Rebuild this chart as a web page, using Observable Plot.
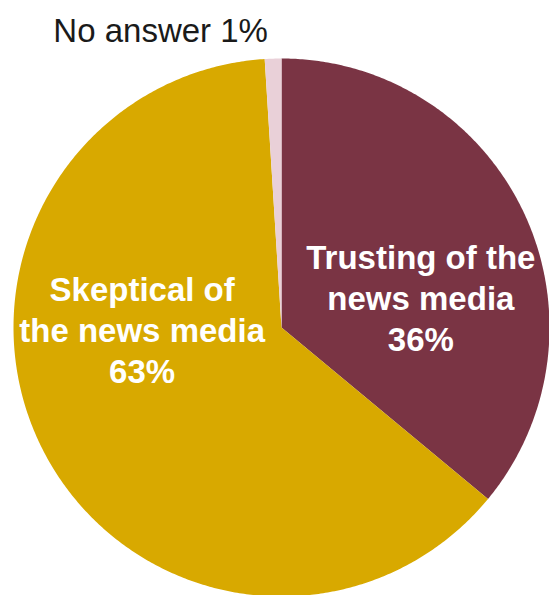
<!DOCTYPE html>
<html>
<head>
<meta charset="utf-8">
<script src="https://cdn.jsdelivr.net/npm/d3@7"></script>
<script src="https://cdn.jsdelivr.net/npm/@observablehq/plot@0.6"></script>
<style>
  html, body { margin: 0; padding: 0; background: #fff; }
  #chart svg { display: block; }
</style>
</head>
<body>
<div id="chart"></div>
<script>
// Data
const categories = ["Trusting of the news media", "Skeptical of the news media", "No answer"];
const values = [36, 63, 1];
const colors = ["#7A3444", "#D8A900", "#E9D0D8"];
const sliceLabels = ["Trusting of the\nnews media\n36%", "Skeptical of\nthe news media\n63%", "No answer 1%"];

// Build slice polygons from pie angles (clockwise from 12 o'clock)
const arcs = d3.pie().sort(null).value(d => d)(values);
const polys = [];
arcs.forEach((a, i) => {
  const n = Math.max(2, Math.ceil((a.endAngle - a.startAngle) / (Math.PI / 360)));
  polys.push({cat: categories[i], x: 0, y: 0});
  for (let k = 0; k <= n; k++) {
    const t = a.startAngle + (a.endAngle - a.startAngle) * k / n;
    polys.push({cat: categories[i], x: Math.sin(t), y: Math.cos(t)});
  }
});

const boldFont = {fill: "white", fontSize: 33, fontWeight: "bold",
  fontFamily: "Liberation Sans, Arial, sans-serif", lineHeight: 1.25,
  textAnchor: "middle", lineAnchor: "middle"};

const chart = Plot.plot({
  width: 549,
  height: 595,
  margin: 0,
  x: {domain: [-1, 1], range: [13, 549], axis: null},
  y: {domain: [-1, 1], range: [596, 58], axis: null},
  color: {domain: categories, range: colors},
  marks: [
    Plot.line(polys, {x: "x", y: "y", z: "cat", fill: "cat", stroke: "none", curve: "linear-closed"}),
    Plot.text([sliceLabels[0]], {x: 0.52, y: 0.115, text: d => d, ...boldFont}),
    Plot.text([sliceLabels[1]], {x: -0.52, y: -0.005, text: d => d, ...boldFont}),
    Plot.text([sliceLabels[2]], {x: -0.451, y: 1.06, text: d => d, fill: "#1a1a1a",
      fontSize: 33, fontFamily: "Liberation Sans, Arial, sans-serif",
      textAnchor: "middle", lineAnchor: "bottom"})
  ]
});
document.getElementById("chart").append(chart);
</script>
</body>
</html>
